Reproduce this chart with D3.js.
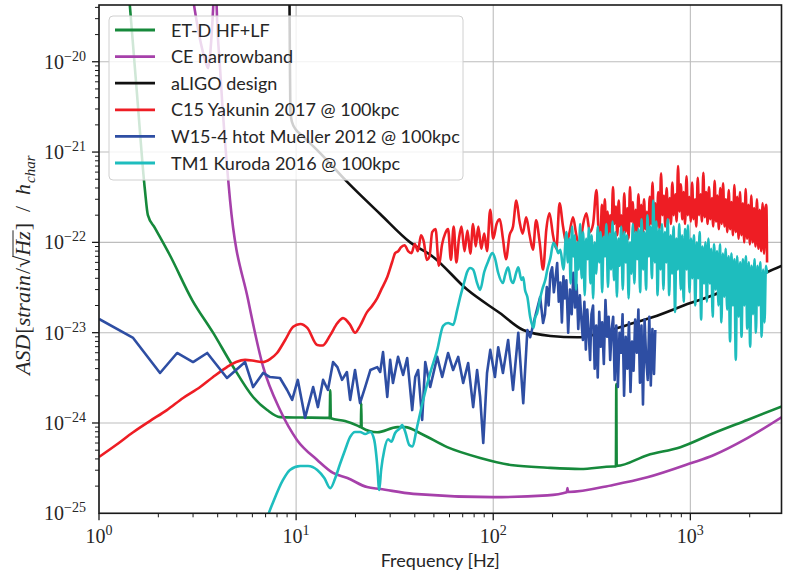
<!DOCTYPE html>
<html>
<head>
<meta charset="utf-8">
<script src="https://cdn.jsdelivr.net/npm/d3@7"></script>
<style>
  body { margin: 0; background: #ffffff; }
  svg { display: block; }
</style>
</head>
<body>
<svg id="chart" width="785" height="574"></svg>
<script>
// ---------------------------------------------------------------------------
// Detector sensitivity curves and supernova GW signals, [frequency Hz, ASD]
// ---------------------------------------------------------------------------
const etdHfLf = [
  [1.40, 8e-20], [1.56, 4.3e-21], [1.71, 3.8e-22], [1.77, 2.0e-22], [1.92, 1.45e-22],
  [2.29, 7.2e-23], [2.97, 2.3e-23], [3.79, 1.0e-23], [4.79, 4.2e-24], [6.05, 1.94e-24],
  [7.13, 1.39e-24], [8.29, 1.16e-24], [10.5, 1.15e-24], [14.5, 1.14e-24], [14.8, 1.13e-24],
  [14.9, 2.3e-24], [15.0, 1.13e-24], [17.7, 1.05e-24], [20.6, 9.3e-25], [21.3, 9.0e-25],
  [21.4, 1.66e-24], [21.5, 8.9e-25], [25.8, 7.9e-25], [32.6, 9.0e-25], [35.8, 9.0e-25],
  [42.6, 7.7e-25], [58.4, 5.4e-25], [85.9, 4.1e-25], [126, 3.4e-25], [188, 3.2e-25],
  [277, 3.1e-25], [406, 3.3e-25], [419, 3.3e-25], [421, 2.7e-24], [423, 3.35e-25],
  [605, 4.4e-25], [890, 5.4e-25], [1309, 7.7e-25], [1946, 1.08e-24], [3035, 1.58e-24]
];

const ceNarrowband = [
  [2.90, 8e-20], [3.26, 1.74e-20], [3.45, 1.05e-20], [3.58, 8.5e-21], [3.66, 1.19e-20],
  [3.79, 3.75e-20], [3.90, 1.5e-19], [3.95, 4.3e-20], [4.11, 8.7e-21], [4.62, 2.95e-22],
  [5.71, 2.3e-23], [6.80, 4.2e-24], [8.29, 1.39e-24], [10.1, 6.5e-25], [12.8, 3.9e-25],
  [15.4, 2.8e-25], [18.2, 2.46e-25], [22.9, 1.95e-25], [26.7, 1.86e-25], [39.3, 1.64e-25],
  [100, 1.51e-25], [188, 1.58e-25], [236, 1.71e-25], [238, 1.9e-25], [240, 1.72e-25],
  [406, 2.06e-25], [605, 2.5e-25], [1012, 3.6e-25], [1309, 4.4e-25], [1946, 6.8e-25],
  [3035, 1.23e-24]
];

const aligoDesign = [
  [9.2, 3e-19], [9.3, 1.05e-20], [9.35, 2.9e-21], [9.53, 2.15e-21], [10.0, 1.76e-21],
  [10.5, 1.59e-21], [13.2, 9.8e-22], [18.1, 4.7e-22], [26.7, 2.06e-22], [37.9, 1.0e-22],
  [49.6, 6.9e-23], [73.7, 3.0e-23], [108, 1.65e-23], [142, 1.07e-23], [195, 9.2e-24],
  [267, 8.9e-24], [349, 9.9e-24], [479, 1.22e-23], [648, 1.49e-23], [1000, 2.13e-23],
  [1310, 2.61e-23], [1790, 3.55e-23], [2460, 4.7e-23], [3040, 5.76e-23]
];

const c15Yakunin = [
  [1, 4.2e-25], [1.22, 5.7e-25], [1.49, 7.9e-25], [1.81, 1.05e-24], [2.21, 1.39e-24],
  [2.67, 1.89e-24], [3.26, 2.5e-24], [3.79, 3.23e-24], [4.46, 4.16e-24], [4.96, 4.73e-24],
  [5.51, 5.0e-24], [6.19, 4.86e-24], [6.8, 4.73e-24], [7.37, 5.1e-24], [8.0, 5.96e-24],
  [8.8, 8.3e-24], [9.66, 1.16e-23], [10.5, 1.25e-23], [11.4, 1.13e-23], [12.8, 7.3e-24],
  [13.6, 7.2e-24], [14.9, 9.4e-24], [16.2, 1.28e-23], [17.3, 1.45e-23], [18.8, 1.22e-23],
  [19.9, 1.0e-23], [21.1, 1.19e-23], [22.9, 1.69e-23], [24.3, 1.98e-23], [25.8, 2.42e-23],
  [27.3, 3.13e-23], [29.0, 4.14e-23], [30.7, 6.06e-23], [31.8, 7.6e-23],
  [33, 8.0e-23], [34, 8.8e-23], [35.5, 9.3e-23], [37, 8.0e-23], [38.5, 7.6e-23],
  [40, 9.6e-23], [41.5, 8.0e-23], [43, 1.2e-22], [44.5, 1.0e-22], [46, 6.4e-23],
  [47.5, 7.0e-23], [49, 1.3e-22], [51, 1.4e-22], [53, 5.5e-23], [55, 9.5e-23],
  [57, 1.25e-22], [59, 1.4e-22], [61, 6.4e-23], [63, 1.5e-22], [65, 6.0e-23],
  [67, 1.1e-22], [69, 1.5e-22], [71.5, 8e-23], [74, 1.35e-22], [76.5, 7.5e-23],
  [79, 1.6e-22], [81.5, 9e-23], [84, 1.5e-22], [87, 8.5e-23], [90, 1.25e-22],
  [93, 8.0e-23], [96.5, 2.3e-22], [100, 1.1e-22],
  [104, 1.6e-22], [108, 1.8e-22], [112, 1.1e-22], [116, 6.5e-23], [121, 1.2e-22],
  [126, 1.5e-22], [131, 2.9e-22], [136, 1.7e-22], [141, 1.25e-22], [147, 1.9e-22],
  [153, 1.2e-22], [159, 8.3e-23], [165, 1.75e-22], [172, 1.0e-22], [179, 5.0e-23],
  [186, 1.4e-22], [193, 2.1e-22], [201, 1.2e-22], [209, 8.5e-23], [217, 2.7e-22],
  [226, 1.5e-22], [235, 9.8e-23], [244, 1.3e-22], [254, 1.9e-22], [264, 1.2e-22],
  [275, 8.9e-23], [286, 1.6e-22], [297, 2.1e-22], [309, 1.3e-22], [321, 1.6e-22],
  [334, 3.8e-22], [343, 1.3e-22],
  [350, 1.2e-22], [356, 2.6e-22], [362, 1.1e-22], [368, 3.0e-22], [374, 1.4e-22],
  [380, 2.2e-22], [386, 9.5e-23], [392, 2.0e-22], [398, 1.3e-22], [405, 4.1e-22],
  [412, 1.6e-22], [419, 2.5e-22], [426, 1.2e-22], [433, 2.9e-22], [440, 1.5e-22],
  [447, 2.0e-22], [454, 1.1e-22], [462, 3.5e-22], [470, 1.3e-22], [478, 2.4e-22],
  [486, 1.1e-22], [494, 4.1e-22], [502, 1.7e-22], [510, 2.8e-22], [518, 1.3e-22],
  [527, 2.3e-22], [536, 1.2e-22], [545, 3.4e-22], [554, 1.5e-22], [563, 2.6e-22],
  [572, 1.1e-22], [582, 3.0e-22], [592, 1.4e-22], [602, 2.2e-22], [612, 1.3e-22],
  [622, 3.2e-22], [632, 1.6e-22], [643, 4.6e-22], [654, 1.3e-22], [665, 2.7e-22],
  [676, 1.5e-22], [687, 3.6e-22], [698, 1.4e-22], [710, 5.8e-22], [722, 2.0e-22],
  [734, 3.3e-22], [746, 1.5e-22], [758, 4.0e-22], [771, 1.8e-22], [784, 3.1e-22],
  [797, 1.6e-22], [810, 4.6e-22], [824, 2.0e-22], [838, 3.4e-22], [852, 1.7e-22],
  [866, 7.0e-22], [880, 2.2e-22], [895, 4.4e-22], [910, 1.8e-22], [925, 3.6e-22],
  [940, 1.6e-22], [956, 5.4e-22], [972, 2.0e-22], [988, 3.2e-22], [1004, 1.7e-22],
  [1021, 4.6e-22], [1038, 1.8e-22], [1055, 3.0e-22], [1072, 1.5e-22], [1090, 5.2e-22],
  [1108, 2.0e-22], [1126, 3.4e-22], [1145, 1.7e-22], [1164, 5.9e-22], [1183, 1.9e-22],
  [1203, 3.6e-22], [1223, 1.6e-22], [1243, 4.1e-22], [1264, 1.8e-22], [1285, 3.1e-22],
  [1306, 1.5e-22], [1328, 4.8e-22], [1350, 1.7e-22], [1372, 3.3e-22], [1395, 1.4e-22],
  [1418, 4.0e-22], [1442, 1.6e-22], [1466, 4.5e-22], [1490, 1.5e-22], [1515, 3.0e-22],
  [1540, 1.3e-22], [1566, 3.8e-22], [1592, 1.4e-22], [1618, 2.8e-22], [1645, 1.2e-22],
  [1672, 4.3e-22], [1700, 1.3e-22], [1728, 3.2e-22], [1757, 1.1e-22], [1786, 3.6e-22],
  [1816, 1.2e-22], [1846, 2.7e-22], [1877, 1.0e-22], [1908, 3.9e-22], [1940, 1.1e-22],
  [1972, 2.6e-22], [2005, 9.5e-23], [2038, 3.3e-22], [2072, 1.0e-22], [2106, 2.4e-22],
  [2141, 9e-23], [2177, 3.0e-22], [2213, 8.5e-23], [2250, 2.3e-22], [2287, 8e-23],
  [2325, 2.7e-22], [2364, 7.5e-23], [2403, 2.4e-22], [2430, 2.6e-22], [2450, 6e-23]
];

const w15Mueller = [
  [1, 1.42e-23], [1.49, 8.75e-24], [2.04, 3.58e-24], [2.49, 5.96e-24], [3.0, 4.73e-24],
  [3.54, 5.96e-24], [4.46, 3.15e-24], [5.51, 4.73e-24], [6.05, 2.5e-24], [6.8, 3.58e-24],
  [7.37, 3.23e-24], [8.28, 3.15e-24], [9.0, 2.32e-24], [9.55, 1.8e-24], [10.2, 3.0e-24],
  [11.1, 1.14e-24], [12.2, 2.5e-24], [12.9, 1.5e-24], [13.7, 3.0e-24], [14.5, 2.32e-24],
  [15.4, 4.73e-24], [16.2, 4.16e-24], [17.1, 3.0e-24], [18.1, 3.67e-24], [18.8, 1.8e-24],
  [19.9, 3.86e-24], [21.1, 1.66e-24], [22.4, 2.5e-24], [23.8, 3.86e-24], [25.8, 4.16e-24],
  [26.7, 3.67e-24], [27.6, 6.1e-24], [29.0, 1.94e-24], [30.0, 5.0e-24], [31.0, 2.77e-24],
  [32.9, 5.4e-24], [34.9, 3.4e-24], [36.6, 5.25e-24], [38.8, 1.39e-24], [40.2, 3.23e-24],
  [41.6, 3.86e-24], [43.6, 1.08e-24], [45.2, 4.73e-24], [47.9, 2.5e-24], [52.0, 5.4e-24],
  [55.1, 3.23e-24], [59.0, 5.96e-24], [62.6, 3.86e-24], [66.4, 5.4e-24], [70.4, 2.77e-24],
  [74.6, 4.62e-24], [79.1, 1.5e-24], [82.8, 3.86e-24], [85.8, 1.94e-24], [89.0, 6.0e-25],
  [93, 3.58e-24], [96.6, 6.45e-24], [102, 3.23e-24], [106, 6.9e-24], [112, 3.58e-24],
  [119, 8.3e-24], [126, 2.32e-24], [134, 1.0e-23], [142, 1.66e-24], [149, 1.07e-23],
  [154, 8.9e-24], [163, 1.49e-23], [173, 2.48e-23], [179, 1.28e-23],
  [183, 1.6e-23], [187, 3.2e-23], [191, 2.0e-23], [195, 4.5e-23], [199, 5.3e-23],
  [203, 2.8e-23], [207, 4.0e-23], [211, 5.9e-23], [215, 2.2e-23], [219, 3.6e-23],
  [223, 1.3e-23], [227, 4.2e-23], [231, 2.4e-23], [235, 3.8e-23], [240, 1.0e-23],
  [245, 3.0e-23], [250, 1.6e-23], [255, 4.6e-23], [260, 1.9e-23], [265, 3.4e-23],
  [270, 1.1e-23], [275, 2.6e-23], [280, 1.4e-23], [285, 8.3e-24], [290, 2.2e-23],
  [295, 6.5e-24], [300, 1.8e-23], [305, 1.0e-23], [310, 5e-24], [315, 1.6e-23],
  [321, 2.0e-23], [327, 4e-24], [333, 1.2e-23], [339, 3.2e-24], [345, 1.7e-23],
  [351, 7e-24], [357, 1.3e-23], [364, 4.5e-24], [371, 2.3e-23], [378, 9e-24],
  [385, 1.5e-23], [392, 5e-24], [399, 1.1e-23], [406, 1.5e-23], [413, 3e-24],
  [421, 1.2e-23], [429, 2.5e-24], [437, 1.0e-23], [445, 6e-24], [453, 1.6e-23],
  [461, 2.0e-24], [470, 9e-24], [479, 4e-24], [488, 1.3e-23], [497, 2.2e-24],
  [506, 8e-24], [515, 3.8e-24], [525, 1.4e-23], [535, 6e-24], [545, 1.8e-23],
  [555, 2.8e-24], [565, 1.2e-23], [575, 1.6e-24], [586, 1.4e-23], [597, 5e-24],
  [608, 3.0e-24], [619, 1.5e-23], [630, 2.6e-24], [642, 1.1e-23], [654, 3.5e-24],
  [664, 1.07e-23]
];

const tm1Kuroda = [
  [7.04, 8.4e-26], [7.55, 1.24e-25], [8.58, 2.34e-25], [9.3, 3.02e-25], [10.5, 3.34e-25],
  [11.5, 3.34e-25], [12.8, 3.02e-25], [13.9, 2.46e-25], [14.9, 1.9e-25], [15.8, 2.46e-25],
  [16.7, 3.51e-25], [17.7, 5.0e-25], [18.8, 7.0e-25], [19.9, 7.95e-25], [21.1, 7.95e-25],
  [22.4, 7.55e-25], [23.8, 7.95e-25], [24.9, 6.5e-25], [25.8, 3.4e-25], [26.4, 1.81e-25],
  [27.0, 3.02e-25], [28.0, 5.0e-25], [29.3, 6.6e-25], [30.4, 6.2e-25], [31.8, 7.75e-25],
  [33.7, 8.8e-25], [34.5, 9.5e-25], [35.8, 7.95e-25], [37.5, 5.7e-25], [38.8, 5.5e-25],
  [41.1, 9.1e-25], [44.1, 1.8e-24], [47.9, 3.58e-24], [52.0, 6.45e-24], [55.7, 1.19e-23],
  [59.0, 1.28e-23], [62.6, 1.22e-23], [65.6, 1.78e-23], [68.0, 2.48e-23], [71.3, 3.64e-23],
  [73.7, 4.7e-23], [76.4, 5.2e-23], [79.1, 5.0e-23], [82.8, 3.55e-23], [85.8, 2.97e-23],
  [90.0, 4.7e-23], [94.0, 6.07e-23], [99.0, 7.6e-23], [102, 6.7e-23], [106, 4.58e-23],
  [112, 3.55e-23], [115, 4.4e-23], [119, 5.3e-23], [123, 3.84e-23], [126, 3.55e-23],
  [131, 4.7e-23], [134, 5.3e-23], [139, 3.84e-23], [142, 4.1e-23], [145, 2.97e-23],
  [149, 2.48e-23], [154, 1.49e-23], [160, 1.13e-23], [163, 1.45e-23], [167, 1.65e-23],
  [173, 2.4e-23], [177, 2.97e-23], [184, 3.9e-23], [188, 4.95e-23], [195, 6.7e-23],
  [202, 9.9e-23], [209, 8.7e-23], [214, 7.6e-23], [219, 8.3e-23], [227, 5.0e-23],
  [235, 1.3e-22], [239, 6e-23], [243, 1.1e-22], [247, 3.5e-23], [251, 1.5e-22],
  [255, 7e-23], [259, 1.2e-22], [263, 3.0e-23], [267, 1.0e-22], [271, 5e-23],
  [276, 1.6e-22], [281, 4e-23], [286, 1.3e-22], [291, 2.6e-23], [296, 1.1e-22],
  [301, 6.5e-23], [306, 1.45e-22], [311, 3.5e-23], [316, 1.2e-22], [321, 2.4e-23],
  [327, 1.0e-22], [333, 4.5e-23], [339, 1.5e-22], [345, 6e-23], [351, 1.3e-22],
  [357, 2.8e-23], [363, 1.15e-22], [369, 7e-23], [375, 1.6e-22], [382, 3.2e-23],
  [389, 1.25e-22], [396, 5e-23], [403, 1.7e-22], [410, 3.8e-23], [417, 1.3e-22],
  [424, 2.5e-23], [431, 1.1e-22], [438, 5.5e-23], [446, 1.5e-22], [454, 3.0e-23],
  [462, 1.3e-22], [470, 6e-23], [478, 1.2e-22], [486, 2.4e-23], [494, 1.0e-22],
  [502, 4.5e-23], [511, 1.6e-22], [520, 3.5e-23], [529, 1.3e-22], [538, 6.5e-23],
  [547, 1.4e-22], [556, 2.8e-23], [566, 1.8e-22], [576, 5e-23], [586, 1.3e-22],
  [596, 3.0e-23], [606, 2.0e-22], [616, 7e-23], [627, 1.5e-22], [638, 4e-23],
  [649, 2.9e-22], [660, 6e-23], [671, 1.7e-22], [682, 2.6e-23], [694, 1.4e-22],
  [706, 5e-23], [718, 1.6e-22], [730, 3.0e-23], [742, 1.3e-22], [755, 6e-23],
  [768, 1.8e-22], [781, 2.6e-23], [794, 1.2e-22], [808, 4.5e-23], [822, 1.5e-22],
  [836, 1.7e-23], [850, 1.1e-22], [864, 5e-23], [879, 1.6e-22], [894, 3.0e-23],
  [909, 1.2e-22], [925, 2.2e-23], [941, 1.4e-22], [957, 5e-23], [973, 1.55e-22],
  [990, 2.8e-23], [1007, 1.1e-22], [1024, 4e-23], [1042, 1.2e-22], [1060, 2.0e-23],
  [1078, 1.0e-22], [1096, 4e-23], [1115, 1.3e-22], [1134, 1.4e-23], [1153, 9e-23],
  [1173, 3.5e-23], [1193, 1.0e-22], [1213, 2.2e-23], [1234, 1.1e-22], [1255, 3.5e-23],
  [1276, 8.5e-23], [1298, 1.5e-23], [1320, 9.5e-23], [1343, 3.0e-23], [1366, 8e-23],
  [1389, 2.0e-23], [1413, 9.5e-23], [1437, 1.3e-23], [1461, 7.5e-23], [1486, 2.5e-23],
  [1511, 8.5e-23], [1537, 1.8e-23], [1563, 7e-23], [1590, 8e-24], [1617, 7.5e-23],
  [1644, 2.0e-23], [1672, 6.5e-23], [1700, 5e-24], [1729, 7e-23], [1758, 1.5e-23],
  [1788, 6e-23], [1818, 9e-24], [1849, 6.5e-23], [1880, 2.0e-23], [1912, 7e-23],
  [1944, 1.1e-23], [1977, 6e-23], [2011, 7e-24], [2045, 5.5e-23], [2080, 1.6e-23],
  [2115, 6.5e-23], [2151, 1.0e-23], [2187, 5.5e-23], [2224, 2.0e-23], [2262, 6e-23],
  [2300, 9e-24], [2339, 5e-23], [2378, 1.3e-23], [2418, 5.5e-23], [2450, 4.5e-23]
];

const legendLabels = [
  "ET-D HF+LF", "CE narrowband", "aLIGO design",
  "C15 Yakunin 2017 @ 100kpc", "W15-4 htot Mueller 2012 @ 100kpc", "TM1 Kuroda 2016 @ 100kpc"
];
const seriesColors = ["#16893b", "#a640aa", "#111111", "#ee1d24", "#2e4ea3", "#1ebdbe"];
const xMajorExponents = [0, 1, 2, 3];
const yMajorExponents = [-25, -24, -23, -22, -21, -20];
const xDomain = [1, 2900];
const yDomain = [1e-25, 4.25e-20];

// ---------------------------------------------------------------------------
const plot = { left: 99, right: 781.5, top: 5, bottom: 513.3 };
const svg = d3.select("#chart");
const x = d3.scaleLog().domain(xDomain).range([plot.left, plot.right]);
const y = d3.scaleLog().domain(yDomain).range([plot.bottom, plot.top]);

svg.append("defs").append("clipPath").attr("id", "plot-area")
  .append("rect")
  .attr("x", plot.left).attr("y", plot.top)
  .attr("width", plot.right - plot.left).attr("height", plot.bottom - plot.top);

// major grid
const grid = svg.append("g").attr("stroke", "#bdbdbd").attr("stroke-width", 1.1);
xMajorExponents.forEach(e => {
  const px = x(Math.pow(10, e));
  grid.append("line").attr("x1", px).attr("x2", px).attr("y1", plot.top).attr("y2", plot.bottom);
});
yMajorExponents.forEach(e => {
  const py = y(Math.pow(10, e));
  grid.append("line").attr("x1", plot.left).attr("x2", plot.right).attr("y1", py).attr("y2", py);
});

// curves
const series = [etdHfLf, ceNarrowband, aligoDesign, c15Yakunin, w15Mueller, tm1Kuroda];
const curves = [d3.curveMonotoneX, d3.curveMonotoneX, d3.curveMonotoneX,
                d3.curveMonotoneX, d3.curveLinear, d3.curveMonotoneX];
const lines = svg.append("g").attr("clip-path", "url(#plot-area)");
series.forEach((data, i) => {
  const gen = d3.line().x(d => x(d[0])).y(d => y(d[1])).curve(curves[i]);
  lines.append("path")
    .attr("d", gen(data))
    .attr("fill", "none")
    .attr("stroke", seriesColors[i])
    .attr("stroke-width", 2.6)
    .attr("stroke-linejoin", "round")
    .attr("stroke-linecap", "butt");
});

// frame
svg.append("rect")
  .attr("x", plot.left).attr("y", plot.top)
  .attr("width", plot.right - plot.left).attr("height", plot.bottom - plot.top)
  .attr("fill", "none").attr("stroke", "#1a1a1a").attr("stroke-width", 1.6);

// ticks
const ticks = svg.append("g").attr("stroke", "#1a1a1a");
x.ticks().forEach(t => {
  const major = Math.abs(Math.log10(t) - Math.round(Math.log10(t))) < 1e-9;
  ticks.append("line").attr("x1", x(t)).attr("x2", x(t))
    .attr("y1", plot.bottom).attr("y2", plot.bottom + (major ? 7 : 4))
    .attr("stroke-width", major ? 1.3 : 1);
});
y.ticks().forEach(t => {
  const major = Math.abs(Math.log10(t) - Math.round(Math.log10(t))) < 1e-9;
  ticks.append("line").attr("y1", y(t)).attr("y2", y(t))
    .attr("x1", plot.left).attr("x2", plot.left - (major ? 7 : 4))
    .attr("stroke-width", major ? 1.3 : 1);
});

// tick labels
const tickFont = "'Liberation Serif', 'DejaVu Serif', serif";
xMajorExponents.forEach(e => {
  const t = svg.append("text")
    .attr("x", x(Math.pow(10, e))).attr("y", 543)
    .attr("text-anchor", "middle")
    .attr("font-family", tickFont).attr("font-size", 20).attr("fill", "#262626");
  t.append("tspan").text("10");
  t.append("tspan").attr("dy", -8).attr("font-size", 14).text(String(e));
});
yMajorExponents.forEach(e => {
  const t = svg.append("text")
    .attr("x", 86).attr("y", y(Math.pow(10, e)) + 7)
    .attr("text-anchor", "end")
    .attr("font-family", tickFont).attr("font-size", 20).attr("fill", "#262626");
  t.append("tspan").text("10");
  t.append("tspan").attr("dy", -8).attr("font-size", 14).text("\u2212" + Math.abs(e));
});

// x axis title
svg.append("text")
  .attr("x", (plot.left + plot.right) / 2).attr("y", 567)
  .attr("text-anchor", "middle")
  .attr("font-family", "Lato, 'Open Sans', sans-serif").attr("font-size", 18)
  .attr("fill", "#262626")
  .text("Frequency [Hz]");

// y axis title (math style), reading upward from its start point
const yTitle = svg.append("g").attr("transform", "translate(30,375) rotate(-90)");
const parts = [
  { t: "ASD", it: true }, { t: "[", it: false }, { t: "strain", it: true }, { t: "/", it: false },
  { t: "\u221A", it: false, rad: true }, { t: "Hz", it: true, over: true }, { t: "]", it: false },
  { t: "\u2002/\u2002", it: false }, { t: "h", it: true }, { t: "char", it: true, sub: true }
];
let cursor = 0;
const placed = [];
parts.forEach(p => {
  const node = yTitle.append("text")
    .attr("x", cursor).attr("y", p.sub ? 5 : 0)
    .attr("font-family", tickFont)
    .attr("font-style", p.it ? "italic" : "normal")
    .attr("font-size", p.sub ? 15 : 22)
    .attr("fill", "#262626")
    .text(p.t);
  const w = node.node().getComputedTextLength();
  placed.push({ node, x0: cursor, w, p });
  cursor += w + (p.it && !p.sub ? 1 : 0);
});
const rad = placed.find(o => o.p.rad), hz = placed.find(o => o.p.over);
yTitle.append("line")
  .attr("x1", rad.x0 + rad.w - 1).attr("x2", hz.x0 + hz.w + 1)
  .attr("y1", -17).attr("y2", -17)
  .attr("stroke", "#262626").attr("stroke-width", 1);

// legend
const legend = svg.append("g");
legend.append("rect")
  .attr("x", 109).attr("y", 16).attr("width", 354).attr("height", 164)
  .attr("rx", 4).attr("ry", 4)
  .attr("fill", "#ffffff").attr("fill-opacity", 0.8)
  .attr("stroke", "#d0d0d0").attr("stroke-width", 1);
legendLabels.forEach((label, i) => {
  const ly = 30 + i * 26.6;
  legend.append("line")
    .attr("x1", 115).attr("x2", 155).attr("y1", ly).attr("y2", ly)
    .attr("stroke", seriesColors[i]).attr("stroke-width", 2.8);
  legend.append("text")
    .attr("x", 171).attr("y", ly + 6.5)
    .attr("font-family", "Lato, 'Open Sans', sans-serif").attr("font-size", 18)
    .attr("fill", "#262626")
    .text(label);
});
</script>
</body>
</html>
